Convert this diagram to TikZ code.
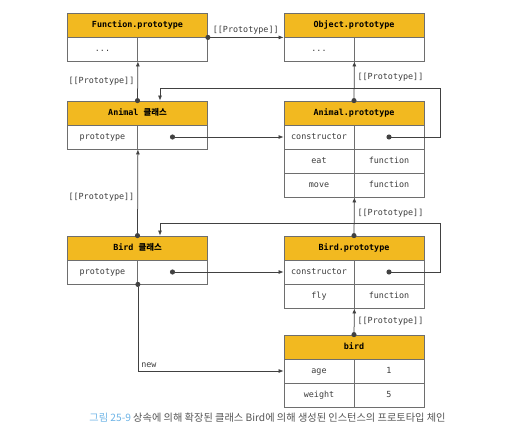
\documentclass[tikz,border=0pt]{standalone}
\usepackage{fontspec}
\setmonofont{DejaVu Sans Mono}
\newfontfamily\kr{Noto Sans CJK KR}
\usepackage{tikz}
\usetikzlibrary{arrows.meta, positioning}

\definecolor{headfill}{RGB}{242,185,32}
\definecolor{boxline}{RGB}{110,110,110}
\definecolor{linkline}{RGB}{65,65,65}
\definecolor{celltext}{RGB}{60,60,60}
\definecolor{capblue}{RGB}{110,180,230}
\definecolor{captext}{RGB}{85,85,85}

\tikzset{
  head/.style={draw=boxline, line width=0.8pt, fill=headfill, minimum width=140pt, minimum height=24pt, inner sep=0pt, text height=6pt, text depth=1.8pt, font=\ttfamily\bfseries\fontsize{8.4}{10}\selectfont},
  cell/.style={draw=boxline, line width=0.8pt, fill=white, minimum width=70pt, minimum height=24pt, inner sep=0pt, text height=6pt, text depth=1.8pt, text=celltext, font=\ttfamily\fontsize{8.4}{10}\selectfont},
  link/.style={draw=linkline, line width=0.75pt, {Circle[length=5pt]}-{Latex[length=5pt,width=4pt]}, shorten <=-2.5pt},
  tag/.style={text=celltext, font=\ttfamily\fontsize{8.4}{10}\selectfont, inner sep=3pt},
}

\begin{document}
\begin{tikzpicture}[x=1pt, y=-1pt]
\useasboundingbox (0,0) rectangle (529,444);

% Function.prototype
\node[head] (fp-head) at (137.5,25) {Function.prototype};
\node[cell] (fp-key) at (102.5,49) {...};
\node[cell] (fp-val) at (172.5,49) {};

% Object.prototype
\node[head] (op-head) at (354,25) {Object.prototype};
\node[cell] (op-key) at (319,49) {...};
\node[cell] (op-val) at (389,49) {};

% Animal class
\node[head] (an-head) at (137.5,113) {Animal {\kr 클래스}};
\node[cell] (an-key) at (102.5,137) {prototype};
\node[cell] (an-val) at (172.5,137) {};

% Animal.prototype
\node[head] (ap-head) at (354,113) {Animal.prototype};
\node[cell] (ap-ckey) at (319,137) {constructor};
\node[cell] (ap-cval) at (389,137) {};
\node[cell] (ap-ekey) at (319,161) {eat};
\node[cell] (ap-eval) at (389,161) {function};
\node[cell] (ap-mkey) at (319,185) {move};
\node[cell] (ap-mval) at (389,185) {function};

% Bird class
\node[head] (bd-head) at (137.5,248) {Bird {\kr 클래스}};
\node[cell] (bd-key) at (102.5,272) {prototype};
\node[cell] (bd-val) at (172.5,272) {};

% Bird.prototype
\node[head] (bp-head) at (354,248) {Bird.prototype};
\node[cell] (bp-ckey) at (319,272) {constructor};
\node[cell] (bp-cval) at (389,272) {};
\node[cell] (bp-fkey) at (319,296) {fly};
\node[cell] (bp-fval) at (389,296) {function};

% bird instance
\node[head] (bi-head) at (354,347) {bird};
\node[cell] (bi-akey) at (319,371) {age};
\node[cell] (bi-aval) at (389,371) {1};
\node[cell] (bi-wkey) at (319,395) {weight};
\node[cell] (bi-wval) at (389,395) {5};

% turning points of the constructor links
\coordinate (an-ret) at (160,88);
\coordinate (bd-ret) at (160,223);

% [[Prototype]] links
\draw[link] (fp-head.south east) -- (op-head.south west) node[tag, midway, above] {[[Prototype]]};
\draw[link] (an-head.north) -- (fp-key.south east) node[tag, midway, left] {[[Prototype]]};
\draw[link] (ap-head.north) -- (op-key.south east) node[tag, pos=0.6, right] {[[Prototype]]};
\draw[link] (bd-head.north) -- (an-key.south east) node[tag, pos=0.45, left] {[[Prototype]]};
\draw[link] (bp-head.north) -- (ap-mkey.south east) node[tag, pos=0.6, right] {[[Prototype]]};
\draw[link] (bi-head.north) -- (bp-fkey.south east) node[tag, midway, right] {[[Prototype]]};

% prototype / constructor links
\draw[link] (an-val.center) -- (ap-ckey.west);
\draw[link] (ap-cval.center) -- ++(51,0) |- (an-ret) -- (an-ret |- an-head.north);
\draw[link] (bd-val.center) -- (bp-ckey.west);
\draw[link] (bp-cval.center) -- ++(51,0) |- (bd-ret) -- (bd-ret |- bd-head.north);

% new
\draw[link] (bd-key.south east) |- (bi-akey.west) node[tag, pos=0.5, above right] {new};

% caption
\node[font=\kr\fontsize{10.2}{12}\selectfont, text=captext] (caption) at (267.5,418) {{\color{capblue}그림 25-9} 상속에 의해 확장된 클래스 Bird에 의해 생성된 인스턴스의 프로토타입 체인};

\end{tikzpicture}
\end{document}
